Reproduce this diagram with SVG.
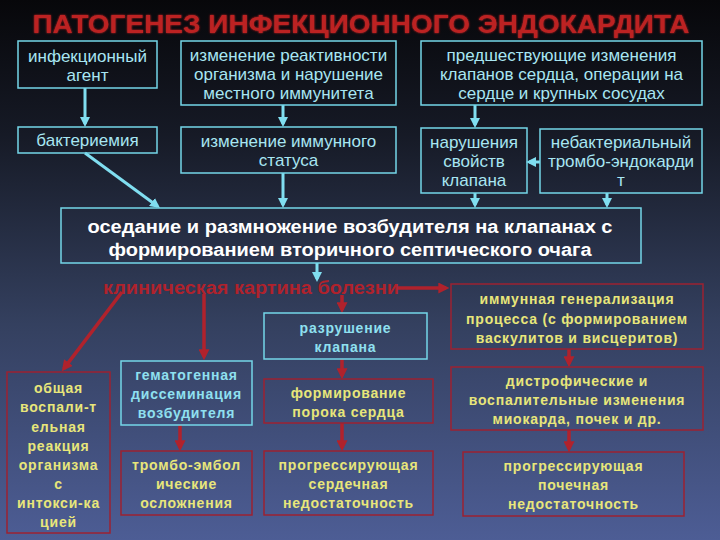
<svg xmlns="http://www.w3.org/2000/svg" width="720" height="540" viewBox="0 0 720 540">
<defs>
<linearGradient id="bg" x1="0" y1="0" x2="0" y2="1">
<stop offset="0" stop-color="#07070a"/>
<stop offset="0.25" stop-color="#161a26"/>
<stop offset="0.6" stop-color="#34405f"/>
<stop offset="1" stop-color="#4d5d95"/>
</linearGradient>
<filter id="glow" x="-5%" y="-30%" width="110%" height="160%">
<feGaussianBlur stdDeviation="1.2" result="b"/>
<feMerge><feMergeNode in="b"/><feMergeNode in="SourceGraphic"/></feMerge>
</filter>
<marker id="ac" viewBox="0 0 10 10" refX="7" refY="5" markerWidth="10" markerHeight="10" markerUnits="userSpaceOnUse" orient="auto">
<path d="M0,0 L10,5 L0,10 z" fill="#80def0"/>
</marker>
<marker id="ar" viewBox="0 0 10 10" refX="7" refY="5" markerWidth="11" markerHeight="11" markerUnits="userSpaceOnUse" orient="auto">
<path d="M0,0 L10,5 L0,10 z" fill="#b0222c"/>
</marker>
</defs>
<style>
.bc{fill:none;stroke:#74d6e8;stroke-width:1.5}
.br{fill:none;stroke:#9c2232;stroke-width:1.5}
.tc{font-family:"Liberation Sans",Arial,sans-serif;font-size:17px;fill:#a8e6f2;text-anchor:middle}
.tcb{font-family:"Liberation Sans",Arial,sans-serif;font-size:14px;font-weight:bold;letter-spacing:0.8px;fill:#8fe0f0;text-anchor:middle}
.ty{font-family:"Liberation Sans",Arial,sans-serif;font-size:14px;font-weight:bold;letter-spacing:0.8px;fill:#e8e67a;text-anchor:middle}
.tw{font-family:"Liberation Sans",Arial,sans-serif;font-size:18px;font-weight:bold;fill:#ffffff;text-anchor:middle}
.lc{stroke:#80def0;stroke-width:3;fill:none;marker-end:url(#ac)}
.lr{stroke:#b0222c;stroke-width:3.5;fill:none;marker-end:url(#ar)}
</style>
<rect x="0" y="0" width="720" height="540" fill="url(#bg)"/>
<text x="361" y="33" font-family="'Liberation Sans',Arial,sans-serif" font-size="25" font-weight="bold" fill="#bc2424" text-anchor="middle" textLength="657" lengthAdjust="spacingAndGlyphs" filter="url(#glow)">ПАТОГЕНЕЗ ИНФЕКЦИОННОГО ЭНДОКАРДИТА</text>

<g id="connectors">
<line class="lc" x1="85" y1="88" x2="85" y2="124"/>
<line class="lc" x1="283" y1="105" x2="283" y2="124"/>
<line class="lc" x1="475" y1="105" x2="475" y2="125"/>
<line class="lc" x1="540" y1="162" x2="529" y2="162"/>
<line class="lc" x1="85" y1="153" x2="157.6" y2="206.2"/>
<line class="lc" x1="283" y1="173" x2="283" y2="205"/>
<line class="lc" x1="475" y1="193" x2="475" y2="205"/>
<line class="lc" x1="607" y1="193" x2="607" y2="205"/>
<line class="lc" x1="317" y1="263" x2="317" y2="279"/>
<line class="lr" x1="398" y1="288" x2="446" y2="288"/>
<line class="lr" x1="122" y1="292" x2="63.8" y2="368.6"/>
<line class="lr" x1="204" y1="294" x2="204" y2="357"/>
<line class="lr" x1="342" y1="295" x2="342" y2="310"/>
<line class="lr" x1="342" y1="359" x2="342" y2="376"/>
<line class="lr" x1="342" y1="423" x2="342" y2="448"/>
<line class="lr" x1="180" y1="425" x2="180" y2="448"/>
<line class="lr" x1="569" y1="349" x2="569" y2="364"/>
<line class="lr" x1="569" y1="430" x2="569" y2="449"/>
</g>

<g id="n-agent">
<rect class="bc" x="18" y="41" width="139" height="47"/>
<text class="tc" x="87.5" y="62">инфекционный</text>
<text class="tc" x="87.5" y="81">агент</text>
</g>
<g id="n-reactivity">
<rect class="bc" x="181" y="41" width="215" height="64"/>
<text class="tc" x="288.5" y="61">изменение реактивности</text>
<text class="tc" x="288.5" y="80">организма и нарушение</text>
<text class="tc" x="288.5" y="99">местного иммунитета</text>
</g>
<g id="n-prior">
<rect class="bc" x="421" y="41" width="281" height="64"/>
<text class="tc" x="561.5" y="61">предшествующие изменения</text>
<text class="tc" x="561.5" y="80">клапанов сердца, операции на</text>
<text class="tc" x="561.5" y="99">сердце и крупных сосудах</text>
</g>
<g id="n-bacteremia">
<rect class="bc" x="18" y="127" width="139" height="26"/>
<text class="tc" x="87.5" y="146">бактериемия</text>
</g>
<g id="n-immune">
<rect class="bc" x="181" y="127" width="215" height="46"/>
<text class="tc" x="288.5" y="147">изменение иммунного</text>
<text class="tc" x="288.5" y="166">статуса</text>
</g>
<g id="n-valve">
<rect class="bc" x="421" y="128" width="106" height="65"/>
<text class="tc" x="474" y="148">нарушения</text>
<text class="tc" x="474" y="167">свойств</text>
<text class="tc" x="474" y="186">клапана</text>
</g>
<g id="n-nonbact">
<rect class="bc" x="540" y="129" width="162" height="64"/>
<text class="tc" x="621" y="148">небактериальный</text>
<text class="tc" x="621" y="167">тромбо-эндокарди</text>
<text class="tc" x="621" y="186">т</text>
</g>
<g id="n-center">
<rect class="bc" x="61" y="208" width="580" height="55"/>
<text class="tw" x="350" y="233" textLength="525" lengthAdjust="spacingAndGlyphs">оседание и размножение возбудителя на клапанах с</text>
<text class="tw" x="350" y="256" textLength="483" lengthAdjust="spacingAndGlyphs">формированием вторичного септического очага</text>
</g>
<g id="n-clinical">
<text x="251" y="294" font-family="'Liberation Sans',Arial,sans-serif" font-size="18" font-weight="bold" fill="#b0222c" text-anchor="middle" textLength="296" lengthAdjust="spacingAndGlyphs">клиническая картина болезни</text>
</g>
<g id="n-general">
<rect class="br" x="7" y="372" width="103" height="161"/>
<text class="ty" x="58.5" y="393">общая</text>
<text class="ty" x="58.5" y="412">воспали-т</text>
<text class="ty" x="58.5" y="432">ельная</text>
<text class="ty" x="58.5" y="451">реакция</text>
<text class="ty" x="58.5" y="470">организма</text>
<text class="ty" x="58.5" y="489">с</text>
<text class="ty" x="58.5" y="508">интокси-ка</text>
<text class="ty" x="58.5" y="527">цией</text>
</g>
<g id="n-hemato">
<rect class="bc" x="121" y="361" width="131" height="64"/>
<text class="tcb" x="186.5" y="380">гематогенная</text>
<text class="tcb" x="186.5" y="399">диссеминация</text>
<text class="tcb" x="186.5" y="418">возбудителя</text>
</g>
<g id="n-thrombo">
<rect class="br" x="121" y="451" width="131" height="64"/>
<text class="ty" x="186.5" y="470">тромбо-эмбол</text>
<text class="ty" x="186.5" y="489">ические</text>
<text class="ty" x="186.5" y="508">осложнения</text>
</g>
<g id="n-destruction">
<rect class="bc" x="264" y="313" width="163" height="46"/>
<text class="tcb" x="345.5" y="333">разрушение</text>
<text class="tcb" x="345.5" y="352">клапана</text>
</g>
<g id="n-defect">
<rect class="br" x="264" y="379" width="169" height="44"/>
<text class="ty" x="348.5" y="398">формирование</text>
<text class="ty" x="348.5" y="417">порока сердца</text>
</g>
<g id="n-heart">
<rect class="br" x="264" y="451" width="169" height="64"/>
<text class="ty" x="348.5" y="470">прогрессирующая</text>
<text class="ty" x="348.5" y="489">сердечная</text>
<text class="ty" x="348.5" y="508">недостаточность</text>
</g>
<g id="n-immunegen">
<rect class="br" x="451" y="284" width="252" height="65"/>
<text class="ty" x="577" y="304">иммунная генерализация</text>
<text class="ty" x="577" y="324">процесса (с формированием</text>
<text class="ty" x="577" y="343">васкулитов и висцеритов)</text>
</g>
<g id="n-dystrophic">
<rect class="br" x="451" y="367" width="252" height="63"/>
<text class="ty" x="577" y="386">дистрофические и</text>
<text class="ty" x="577" y="405">воспалительные изменения</text>
<text class="ty" x="577" y="424">миокарда, почек и др.</text>
</g>
<g id="n-kidney">
<rect class="br" x="463" y="452" width="221" height="64"/>
<text class="ty" x="573.5" y="471">прогрессирующая</text>
<text class="ty" x="573.5" y="490">почечная</text>
<text class="ty" x="573.5" y="509">недостаточность</text>
</g>
</svg>
